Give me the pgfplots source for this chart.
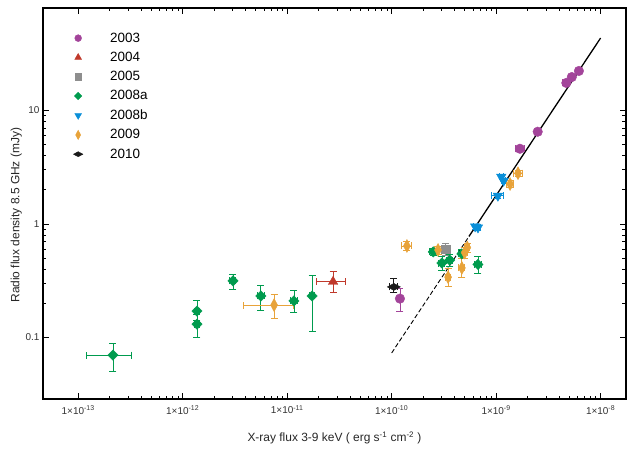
\documentclass[border=0pt]{standalone}
\usepackage{fontspec}
\setmainfont{Liberation Sans}
\usepackage{pgfplots}
\usepackage{pgfplotstable}
\pgfplotsset{compat=1.18}

\definecolor{c2003}{HTML}{A3449A}
\definecolor{c2004}{HTML}{C0392B}
\definecolor{c2005}{HTML}{8E8E8E}
\definecolor{c2008a}{HTML}{009B4E}
\definecolor{c2008b}{HTML}{0A8FD8}
\definecolor{c2009}{HTML}{E8A33A}
\definecolor{c2010}{HTML}{1A1A1A}

% columns: flux, radio, x err +/-, y err +/-
\pgfplotstableread{
x y exp exm eyp eym
1.2e-10 0.22 0 0 0.05 0.05
1.69e-9 4.6 0.19e-9 0.17e-9 0.2 0.2
2.5e-9 6.5 0 0 0 0
4.7e-9 17.5 0.35e-9 0.35e-9 0 0
5.3e-9 19.7 0 0 0 0
6.2e-9 22.3 0 0 0 0
}\tA
\pgfplotstableread{
x y exp exm eyp eym
2.75e-11 0.31 0.82e-11 0.85e-11 0.07 0.06
}\tB
\pgfplotstableread{
x y exp exm eyp eym
3.3e-10 0.60 0.15e-10 0.15e-10 0.08 0.07
}\tC
\pgfplotstableread{
x y exp exm eyp eym
2.15e-13 0.070 1.05e-13 0.94e-13 0.019 0.020
1.37e-12 0.171 0.08e-12 0.08e-12 0.040 0.030
1.37e-12 0.131 0.08e-12 0.08e-12 0.030 0.031
3.03e-12 0.315 0.2e-12 0.2e-12 0.045 0.050
5.6e-12 0.232 0.4e-12 0.4e-12 0.058 0.060
1.16e-11 0.210 0.08e-11 0.08e-11 0.050 0.045
1.73e-11 0.232 0.1e-11 0.1e-11 0.123 0.120
2.5e-10 0.567 0.2e-10 0.2e-10 0.04 0.04
3.03e-10 0.453 0.2e-10 0.2e-10 0.06 0.06
3.6e-10 0.48 0.25e-10 0.25e-10 0.06 0.06
4.7e-10 0.545 0.3e-10 0.3e-10 0.05 0.05
6.7e-10 0.44 0.5e-10 0.5e-10 0.08 0.07
}\tD
\pgfplotstableread{
x y exp exm eyp eym
6.3e-10 0.95 0.3e-10 0.3e-10 0.05 0.05
6.7e-10 0.93 0.3e-10 0.3e-10 0.05 0.05
1.04e-9 1.77 0.14e-9 0.14e-9 0.08 0.08
1.12e-9 2.6 0.05e-9 0.05e-9 0 0
1.18e-9 2.4 0.05e-9 0.05e-9 0 0
}\tE
\pgfplotstableread{
x y exp exm eyp eym
7.5e-12 0.193 0.4e-11 0.37e-11 0.047 0.047
1.4e-10 0.64 0.15e-10 0.15e-10 0.06 0.06
2.78e-10 0.59 0.2e-10 0.2e-10 0.05 0.05
3.47e-10 0.34 0.2e-10 0.2e-10 0.07 0.06
4.7e-10 0.41 0.3e-10 0.3e-10 0.09 0.07
5.0e-10 0.56 0.3e-10 0.3e-10 0.06 0.06
5.3e-10 0.62 0.3e-10 0.3e-10 0.06 0.06
1.36e-9 2.25 0.1e-9 0.1e-9 0.15 0.15
1.62e-9 2.8 0.15e-9 0.15e-9 0.15 0.15
}\tF
\pgfplotstableread{
x y exp exm eyp eym
1.05e-10 0.279 0.09e-10 0.09e-10 0.05 0.03
}\tG

\begin{document}
\begin{tikzpicture}
\useasboundingbox (-43bp,-52bp) rectangle (587bp,399bp);
\begin{axis}[
    scale only axis,
    width=583bp, height=391bp,
    xmode=log, ymode=log,
    xmin=4.6e-14, xmax=1.75e-8,
    ymin=0.0287, ymax=80,
    xtick={1e-13,1e-12,1e-11,1e-10,1e-9,1e-8},
    xticklabels={1×10\textsuperscript{-13},1×10\textsuperscript{-12},1×10\textsuperscript{-11},
                 1×10\textsuperscript{-10},1×10\textsuperscript{-9},1×10\textsuperscript{-8}},
    ytick={0.1,1,10},
    yticklabels={0.1,1,10},
    tick label style={font=\fontsize{10}{12}\selectfont, text=black!80},
    xticklabel style={yshift=-3bp},
    major tick length=6bp, minor tick length=3.5bp,
    tick style={black, line width=0.7bp},
    axis line style={black, line width=1.1bp},
    xlabel={X-ray flux 3-9 keV ( erg s\textsuperscript{-1} cm\textsuperscript{-2} )},
    ylabel={Radio flux density 8.5 GHz (mJy)},
    label style={font=\fontsize{12}{14}\selectfont, text=black!85},
    xlabel style={at={(axis description cs:0.5,-0.1)}, anchor=center},
    ylabel style={at={(axis description cs:-0.046,0.47)}, anchor=center},
    legend style={draw=none, fill=none, inner sep=0pt,
        at={(axis description cs:0,1)}, anchor=north west,
        xshift=26.5bp, yshift=-24.5bp,
        font=\fontsize{13.5}{15}\selectfont, row sep=8.4bp,
        nodes={inner sep=0pt},
        /tikz/every odd column/.append style={column sep=23.5bp}},
    legend cell align=left,
    legend image code/.code={\path[draw=none, fill=none] (0bp,-5bp) rectangle (17bp,5bp);
        \draw[#1, /tikz/every mark/.append style={scale=0.72}] plot coordinates {(8.5bp,0bp)};},
    ser/.style={only marks,
        error bars/x dir=both, error bars/x explicit,
        error bars/y dir=both, error bars/y explicit,
        error bars/error bar style={line width=0.8bp},
        error bars/error mark options={rotate=90, mark size=3.5bp, line width=0.8bp}},
]
\addplot[black, line width=0.9bp, dash pattern=on 4.5bp off 2.5bp, forget plot]
    coordinates {(1e-10,0.073) (5.5e-10,0.777)};
\addplot[black, line width=1.3bp, forget plot]
    coordinates {(5.5e-10,0.777) (1e-8,43.5)};

\addplot[ser, color=c2003, mark=*, mark size=4.8bp]
    table[x=x,y=y,x error plus=exp,x error minus=exm,y error plus=eyp,y error minus=eym] {\tA};
\addplot[ser, color=c2004, mark=triangle*, mark size=5.5bp]
    table[x=x,y=y,x error plus=exp,x error minus=exm,y error plus=eyp,y error minus=eym] {\tB};
\addplot[ser, color=c2005, mark=square*, mark size=4.3bp]
    table[x=x,y=y,x error plus=exp,x error minus=exm,y error plus=eyp,y error minus=eym] {\tC};
\addplot[ser, color=c2008a, mark=diamond*, mark size=5.2bp, mark options={xscale=1.33}]
    table[x=x,y=y,x error plus=exp,x error minus=exm,y error plus=eyp,y error minus=eym] {\tD};
\addplot[ser, color=c2008b, mark=triangle*, mark size=5.5bp, mark options={rotate=180}]
    table[x=x,y=y,x error plus=exp,x error minus=exm,y error plus=eyp,y error minus=eym] {\tE};
\addplot[ser, color=c2009, mark=diamond*, mark size=6.5bp, mark options={xscale=0.72}]
    table[x=x,y=y,x error plus=exp,x error minus=exm,y error plus=eyp,y error minus=eym] {\tF};
\addplot[ser, color=c2010, mark=diamond*, mark size=3.5bp, mark options={xscale=2.5}]
    table[x=x,y=y,x error plus=exp,x error minus=exm,y error plus=eyp,y error minus=eym] {\tG};
\legend{2003,2004,2005,2008a,2008b,2009,2010}
\end{axis}
\end{tikzpicture}
\end{document}
